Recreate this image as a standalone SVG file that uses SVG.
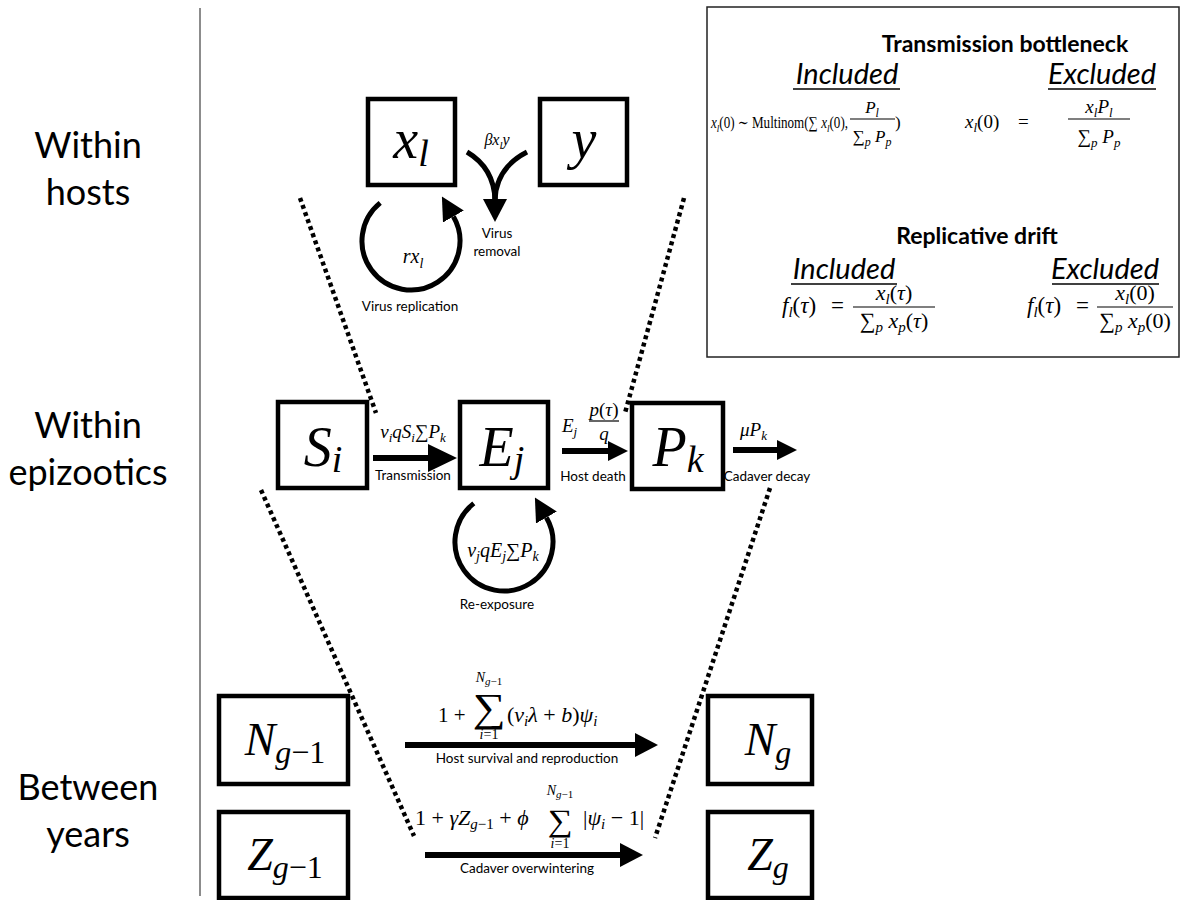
<svg xmlns="http://www.w3.org/2000/svg" width="1181" height="900" viewBox="0 0 1181 900">
<defs>
<style>
.lbl{font-family:Lato,"Open Sans","Liberation Sans",sans-serif;fill:#000}
.big{font-size:36px}
.sm{font-size:13.5px}
.m{font-family:"Liberation Serif","DejaVu Serif",serif;font-style:italic;fill:#000}
.u{font-style:normal}
.box{fill:#fff;stroke:#000;stroke-width:4.5}
.dot{fill:none;stroke:#000;stroke-width:4.5;stroke-dasharray:4 3.5}
.ar{fill:none;stroke:#000;stroke-width:6}
.cur{fill:none;stroke:#000;stroke-width:5}
.fl{stroke:#000;stroke-width:1.2}
.ul{stroke:#000;stroke-width:1.6}
</style>
<marker id="ahL" viewBox="0 0 10 10" refX="0" refY="5" markerUnits="userSpaceOnUse" markerWidth="29" markerHeight="28" orient="auto" preserveAspectRatio="none"><path d="M0,0L10,5L0,10z"/></marker>
<marker id="ahM" viewBox="0 0 10 10" refX="0" refY="5" markerUnits="userSpaceOnUse" markerWidth="23" markerHeight="24" orient="auto" preserveAspectRatio="none"><path d="M0,0L10,5L0,10z"/></marker>
<marker id="ahS" viewBox="0 0 10 10" refX="0" refY="5" markerUnits="userSpaceOnUse" markerWidth="20" markerHeight="20" orient="auto" preserveAspectRatio="none"><path d="M0,0L10,5L0,10z"/></marker>
</defs>
<rect width="1181" height="900" fill="#fff"/>
<line x1="200" y1="8" x2="200" y2="896" stroke="#666" stroke-width="1.5"/>

<g id="row-labels" class="lbl big" text-anchor="middle">
<text x="88" y="158">Within</text>
<text x="88" y="205">hosts</text>
<text x="88" y="438">Within</text>
<text x="88" y="485">epizootics</text>
<text x="88" y="800">Between</text>
<text x="88" y="847">years</text>
</g>

<g id="funnel" class="dot">
<line x1="300" y1="198" x2="376" y2="413"/>
<line x1="684" y1="198" x2="625" y2="413"/>
<line x1="261" y1="490" x2="414" y2="836"/>
<line x1="770" y1="488" x2="655" y2="838"/>
</g>

<g id="legend">
<rect x="707" y="7" width="472" height="350" fill="none" stroke="#222" stroke-width="1.5"/>
<text class="lbl" x="1005" y="52" text-anchor="middle" font-size="23" font-weight="bold">Transmission bottleneck</text>
<text class="lbl" x="847" y="84" text-anchor="middle" font-size="29" font-style="italic">Included</text>
<line class="ul" x1="793" y1="89" x2="900" y2="89"/>
<text class="lbl" x="1102" y="84" text-anchor="middle" font-size="29" font-style="italic">Excluded</text>
<line class="ul" x1="1048" y1="89" x2="1156" y2="89"/>
<text class="m" x="711" y="128" font-size="16" textLength="137" lengthAdjust="spacingAndGlyphs">x<tspan dy="4" font-size="11">l</tspan><tspan dy="-4" class="u">(0) ∼ Multinom(∑ </tspan>x<tspan dy="4" font-size="11">l</tspan><tspan dy="-4" class="u">(0),</tspan></text>
<text class="m" x="872" y="113" font-size="17" text-anchor="middle">P<tspan dy="4" font-size="12">l</tspan></text>
<line class="fl" x1="850" y1="119" x2="895" y2="119"/>
<text class="m" x="872" y="142" font-size="17" text-anchor="middle"><tspan class="u">∑</tspan><tspan dy="4" font-size="12">p</tspan><tspan dy="-4"> P</tspan><tspan dy="4" font-size="12">p</tspan></text>
<text class="m u" x="895" y="128" font-size="17">)</text>
<text class="m" x="965" y="128" font-size="19">x<tspan dy="4" font-size="13">l</tspan><tspan dy="-4" class="u">(0)</tspan></text>
<text class="m u" x="1018" y="128" font-size="19">=</text>
<text class="m" x="1099" y="113" font-size="19" text-anchor="middle">x<tspan dy="4" font-size="13">l</tspan><tspan dy="-4">P</tspan><tspan dy="4" font-size="13">l</tspan></text>
<line class="fl" x1="1068" y1="119" x2="1130" y2="119"/>
<text class="m" x="1099" y="143" font-size="19" text-anchor="middle"><tspan class="u">∑</tspan><tspan dy="4" font-size="13">p</tspan><tspan dy="-4"> P</tspan><tspan dy="4" font-size="13">p</tspan></text>

<text class="lbl" x="977" y="244" text-anchor="middle" font-size="23" font-weight="bold">Replicative drift</text>
<text class="lbl" x="844" y="279" text-anchor="middle" font-size="29" font-style="italic">Included</text>
<line class="ul" x1="791" y1="284" x2="897" y2="284"/>
<text class="lbl" x="1105" y="279" text-anchor="middle" font-size="29" font-style="italic">Excluded</text>
<line class="ul" x1="1052" y1="284" x2="1159" y2="284"/>
<text class="m" x="782" y="313" font-size="23">f<tspan dy="4" font-size="15">l</tspan><tspan dy="-4" class="u">(</tspan>τ<tspan class="u">)</tspan></text>
<text class="m u" x="831" y="313" font-size="23">=</text>
<text class="m" x="894" y="300" font-size="22" text-anchor="middle">x<tspan dy="4" font-size="15">l</tspan><tspan dy="-4" class="u">(</tspan>τ<tspan class="u">)</tspan></text>
<line class="fl" x1="853" y1="307" x2="935" y2="307"/>
<text class="m" x="894" y="328" font-size="22" text-anchor="middle"><tspan class="u">∑</tspan><tspan dy="4" font-size="15">p</tspan><tspan dy="-4"> x</tspan><tspan dy="4" font-size="15">p</tspan><tspan dy="-4" class="u">(</tspan>τ<tspan class="u">)</tspan></text>
<text class="m" x="1027" y="313" font-size="23">f<tspan dy="4" font-size="15">l</tspan><tspan dy="-4" class="u">(</tspan>τ<tspan class="u">)</tspan></text>
<text class="m u" x="1076" y="313" font-size="23">=</text>
<text class="m" x="1135" y="300" font-size="22" text-anchor="middle">x<tspan dy="4" font-size="15">l</tspan><tspan dy="-4" class="u">(0)</tspan></text>
<line class="fl" x1="1097" y1="307" x2="1173" y2="307"/>
<text class="m" x="1135" y="328" font-size="22" text-anchor="middle"><tspan class="u">∑</tspan><tspan dy="4" font-size="15">p</tspan><tspan dy="-4"> x</tspan><tspan dy="4" font-size="15">p</tspan><tspan dy="-4" class="u">(0)</tspan></text>
</g>

<g id="connectors">
<path class="cur" d="M380.2,202.9 A49,49 0 1 0 453.4,216.5" marker-end="url(#ahM)"/>
<path class="cur" d="M467,152 Q494,168 495,200"/>
<path class="cur" d="M527,152 Q496,168 495,200"/>
<path class="cur" d="M495,190 L495,199" marker-end="url(#ahM)"/>
<path class="ar" d="M373,458 H428" marker-end="url(#ahL)"/>
<path class="ar" d="M562,451 H608" marker-end="url(#ahS)"/>
<path class="ar" d="M733,450 H777" marker-end="url(#ahS)"/>
<path class="cur" d="M473.8,503.4 A49,49 0 1 0 546.4,517.5" marker-end="url(#ahM)"/>
<path class="ar" d="M405,745 H635" marker-end="url(#ahM)"/>
<path class="ar" d="M425,855 H620" marker-end="url(#ahM)"/>

<text class="m" x="497" y="145" font-size="16" text-anchor="middle">βx<tspan dy="4" font-size="11">l</tspan><tspan dy="-4">y</tspan></text>
<text class="lbl sm" x="497" y="238" text-anchor="middle">Virus</text>
<text class="lbl sm" x="497" y="256" text-anchor="middle">removal</text>
<text class="m" x="413" y="263" font-size="20" text-anchor="middle">rx<tspan dy="5" font-size="14">l</tspan></text>
<text class="lbl sm" x="410" y="311" text-anchor="middle">Virus replication</text>

<text class="m" x="413" y="438" font-size="19" text-anchor="middle">ν<tspan dy="4" font-size="13">i</tspan><tspan dy="-4">qS</tspan><tspan dy="4" font-size="13">i</tspan><tspan dy="-4" class="u">∑</tspan>P<tspan dy="4" font-size="13">k</tspan></text>
<text class="lbl sm" x="413" y="480" text-anchor="middle">Transmission</text>
<text class="m" x="562" y="432" font-size="19">E<tspan dy="4" font-size="13">j</tspan></text>
<text class="m" x="604" y="416" font-size="19" text-anchor="middle">p<tspan class="u">(</tspan>τ<tspan class="u">)</tspan></text>
<line class="fl" x1="589" y1="421" x2="619" y2="421"/>
<text class="m" x="604" y="440" font-size="19" text-anchor="middle">q</text>
<text class="lbl sm" x="593" y="481" text-anchor="middle">Host death</text>
<text class="m" x="740" y="436" font-size="19">μP<tspan dy="4" font-size="13">k</tspan></text>
<text class="lbl sm" x="767" y="481" text-anchor="middle">Cadaver decay</text>
<text class="m" x="503" y="557" font-size="20" text-anchor="middle">ν<tspan dy="4" font-size="14">j</tspan><tspan dy="-4">qE</tspan><tspan dy="4" font-size="14">j</tspan><tspan dy="-4" class="u">∑</tspan>P<tspan dy="4" font-size="14">k</tspan></text>
<text class="lbl sm" x="497" y="609" text-anchor="middle">Re-exposure</text>

<text class="m u" x="438" y="722" font-size="21">1 +</text>
<text class="m u" x="489" y="721" font-size="40" text-anchor="middle" textLength="33" lengthAdjust="spacingAndGlyphs">∑</text>
<text class="m" x="489" y="682" font-size="14" text-anchor="middle">N<tspan dy="3" font-size="11">g</tspan><tspan font-size="11" class="u">−1</tspan></text>
<text class="m" x="489" y="739" font-size="14" text-anchor="middle">i<tspan class="u">=1</tspan></text>
<text class="m" x="507" y="722" font-size="22"><tspan class="u">(</tspan>ν<tspan dy="4" font-size="15">i</tspan><tspan dy="-4">λ</tspan><tspan class="u"> + </tspan>b<tspan class="u">)</tspan>ψ<tspan dy="4" font-size="15">i</tspan></text>
<text class="lbl sm" x="527" y="763" text-anchor="middle">Host survival and reproduction</text>

<text class="m" x="415" y="825" font-size="22"><tspan class="u">1 + </tspan>γZ<tspan dy="4" font-size="15">g</tspan><tspan font-size="15" class="u">−1</tspan><tspan dy="-4" class="u"> + </tspan>ϕ</text>
<text class="m u" x="560" y="831" font-size="31" text-anchor="middle" textLength="25" lengthAdjust="spacingAndGlyphs">∑</text>
<text class="m" x="560" y="795" font-size="14" text-anchor="middle">N<tspan dy="3" font-size="11">g</tspan><tspan font-size="11" class="u">−1</tspan></text>
<text class="m" x="560" y="848" font-size="14" text-anchor="middle">i<tspan class="u">=1</tspan></text>
<text class="m" x="583" y="825" font-size="22"><tspan class="u">|</tspan>ψ<tspan dy="4" font-size="15">i</tspan><tspan dy="-4" class="u"> − 1|</tspan></text>
<text class="lbl sm" x="527" y="873" text-anchor="middle">Cadaver overwintering</text>
</g>

<g id="node-xl"><rect class="box" x="368" y="99" width="87" height="86"/><text class="m" x="411" y="158" font-size="56" text-anchor="middle">x<tspan dy="8" font-size="38">l</tspan></text></g>
<g id="node-y"><rect class="box" x="540" y="99" width="87" height="86"/><text class="m" x="584" y="158" font-size="56" text-anchor="middle">y</text></g>
<g id="node-Si"><rect class="box" x="278" y="402" width="89" height="86"/><text class="m" x="323" y="466" font-size="56" text-anchor="middle">S<tspan dy="6" font-size="38">i</tspan></text></g>
<g id="node-Ej"><rect class="box" x="460" y="402" width="88" height="86"/><text class="m" x="502" y="466" font-size="56" text-anchor="middle">E<tspan dy="6" font-size="38">j</tspan></text></g>
<g id="node-Pk"><rect class="box" x="632" y="403" width="91" height="86"/><text class="m" x="678" y="466" font-size="56" text-anchor="middle">P<tspan dy="6" font-size="38">k</tspan></text></g>
<g id="node-Ng1"><rect class="box" x="219" y="696" width="129" height="88"/><text class="m" x="285" y="755" font-size="46" text-anchor="middle">N<tspan dy="8" font-size="32">g</tspan><tspan font-size="32" class="u">−1</tspan></text></g>
<g id="node-Zg1"><rect class="box" x="219" y="812" width="129" height="86"/><text class="m" x="285" y="870" font-size="46" text-anchor="middle">Z<tspan dy="8" font-size="32">g</tspan><tspan font-size="32" class="u">−1</tspan></text></g>
<g id="node-Ng"><rect class="box" x="708" y="696" width="104" height="88"/><text class="m" x="768" y="755" font-size="46" text-anchor="middle">N<tspan dy="8" font-size="32">g</tspan></text></g>
<g id="node-Zg"><rect class="box" x="708" y="812" width="104" height="86"/><text class="m" x="768" y="870" font-size="46" text-anchor="middle">Z<tspan dy="8" font-size="32">g</tspan></text></g>
</svg>
